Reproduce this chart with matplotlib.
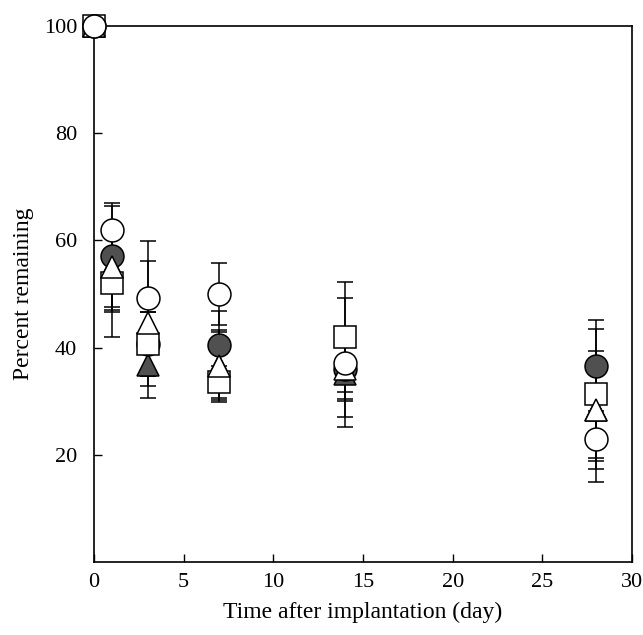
import matplotlib; matplotlib.use('Agg')
import matplotlib.pyplot as plt, numpy as np

plt.rcParams.update({'font.family': 'Liberation Serif', 'font.size': 16})

days = [0, 1, 3, 7, 14, 28]

# percent remaining (mean) and error for each group
open_circle = [100, 62, 49.3, 50, 37.2, 23]
open_circle_err = [0, 5, 10.5, 5.7, 12, 8]
filled_circle = [100, 57, 40.7, 40.4, 36, 36.6]
filled_circle_err = [0, 9.5, 6, 6.5, 5.5, 8.5]
open_square = [100, 52, 40.7, 33.6, 42, 31.4]
open_square_err = [0, 10, 6, 3, 10.3, 12]
open_triangle = [100, 55, 44.5, 36.6, 36, 28.4]
open_triangle_err = [0, 8.3, 11.6, 6.4, 6, 9.5]
filled_triangle = [100, 55, 36.8, 36.6, 35, 28.4]
filled_triangle_err = [0, 8, 6.2, 6.7, 7.9, 11]

DARK = '#505050'
series = [
    (filled_triangle, filled_triangle_err, '^', DARK),
    (filled_circle, filled_circle_err, 'o', DARK),
    (open_square, open_square_err, 's', 'white'),
    (open_triangle, open_triangle_err, '^', 'white'),
    (open_circle, open_circle_err, 'o', 'white'),
]

fig = plt.figure(figsize=(6.43, 6.35), dpi=100)
ax = fig.add_axes([0.146, 0.115, 0.837, 0.844])

# error bars first, then markers on top
for vals, err, m, fc in series:
    ax.errorbar(days, vals, yerr=err, fmt='none', ecolor='black',
                elinewidth=1.1, capsize=5.5, capthick=1.1, zorder=2, clip_on=False)
for z, (vals, err, m, fc) in enumerate(series):
    ax.plot(days, vals, ls='none', marker=m, ms=16.5, mfc=fc, mec='black',
            mew=1.1, zorder=3 + z, clip_on=False)

ax.set_xlim(0, 30)
ax.set_ylim(0, 100)
ax.set_xticks([0, 5, 10, 15, 20, 25, 30])
ax.set_yticks([20, 40, 60, 80, 100])
ax.tick_params(direction='in', length=6, width=1, labelsize=16)
ax.tick_params(axis='y', pad=12)
ax.tick_params(axis='x', pad=8)
for s in ax.spines.values():
    s.set_linewidth(1.2)
ax.set_xlabel('Time after implantation (day)', fontsize=17, labelpad=7)
ax.set_ylabel('Percent remaining', fontsize=17, labelpad=7)

fig.savefig('out.png', dpi=100)
